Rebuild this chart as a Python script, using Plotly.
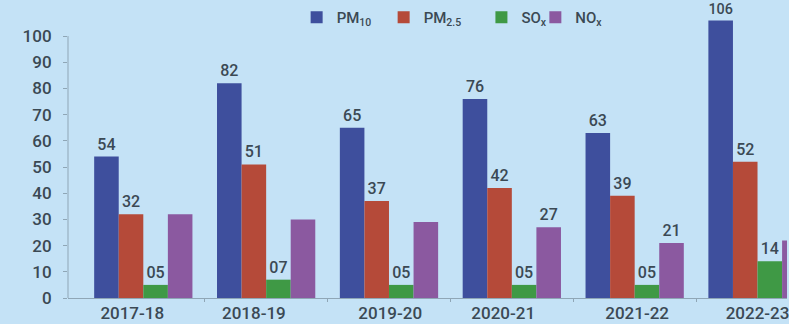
import plotly.graph_objects as go

# Financial years on the category axis
years = ["2017-18", "2018-19", "2019-20", "2020-21", "2021-22", "2022-23"]

# Pollutant levels per year
pm10 = [54, 82, 65, 76, 63, 106]
pm25 = [32, 51, 37, 42, 39, 52]
sox = [5, 7, 5, 5, 5, 14]
nox = [32, 30, 29, 27, 21, 22]

# Printed value labels (None where a bar carries no label)
pm10_text = ["54", "82", "65", "76", "63", "106"]
pm25_text = ["32", "51", "37", "42", "39", "52"]
sox_text = ["05", "07", "05", "05", "05", "14"]
nox_text = [None, None, None, "27", "21", "22"]

y_ticks = [0, 10, 20, 30, 40, 50, 60, 70, 80, 90, 100]

# small horizontal nudges of the year labels under each group
label_shift = [-0.09, -0.10, 0.01, -0.07, 0.02, 0.0]

BG = "#c4e2f6"
TXT = "#3b4954"
AXIS = "#8fa6b6"
FONT = "Roboto"

xs = list(range(len(years)))

series = [
    ("PM<sub>10</sub>", pm10, pm10_text, "#3e4f9d"),
    ("PM<sub>2.5</sub>", pm25, pm25_text, "#b54a39"),
    ("SO<sub>x</sub>", sox, sox_text, "#3f9945"),
    ("NO<sub>x</sub>", nox, nox_text, "#8b59a0"),
]

# each legend entry sits in its own legend box along the top
legend_ids = ["legend", "legend2", "legend3", "legend4"]
legend_x = [0.318, 0.439, 0.575, 0.650]

fig = go.Figure()
for (name, vals, txt, col), lid in zip(series, legend_ids):
    fig.add_trace(go.Bar(
        x=xs, y=vals, name=name, legend=lid,
        marker=dict(color=col, line=dict(width=0)),
        text=txt, textposition="outside", cliponaxis=False,
        textfont=dict(family=FONT, size=16, color=TXT, weight=500),
    ))

legend_style = dict(
    orientation="h", xanchor="left", y=1.0, yanchor="top",
    bgcolor="rgba(0,0,0,0)", font=dict(family=FONT, size=15, color=TXT, weight=500),
    itemwidth=30,
)

fig.update_layout(
    width=789, height=324,
    margin=dict(l=68, r=0, t=1, b=26),
    paper_bgcolor=BG, plot_bgcolor=BG,
    barmode="group", bargap=0.2, bargroupgap=0,
    font=dict(family=FONT, size=16, color=TXT),
    showlegend=True,
    xaxis=dict(
        range=[-0.613, 5.24],
        tickmode="array",
        tickvals=[i + s for i, s in zip(xs, label_shift)],
        ticktext=years,
        ticks="", showgrid=False, zeroline=False,
        showline=True, linecolor=AXIS, linewidth=1,
        ticklabeloverflow="allow",
        tickfont=dict(family=FONT, size=17, color=TXT, weight=500),
        minor=dict(tickmode="array", tickvals=[i + 0.5 for i in xs[:-1]],
                   ticks="outside", ticklen=3, tickcolor=AXIS, showgrid=False),
    ),
    yaxis=dict(
        range=[0, 113.4],
        tickmode="array", tickvals=y_ticks,
        ticks="outside", ticklen=4, tickcolor=AXIS,
        ticklabelstandoff=8,
        showgrid=False, zeroline=False, showline=False,
        tickfont=dict(family=FONT, size=17, color=TXT, weight=500),
    ),
    shapes=[dict(type="line", xref="paper", yref="y", x0=0, x1=0, y0=0, y1=100,
                 line=dict(color=AXIS, width=1))],
)

for lid, lx in zip(legend_ids, legend_x):
    fig.update_layout({lid: dict(legend_style, x=lx)})

fig.write_html("out.html")
